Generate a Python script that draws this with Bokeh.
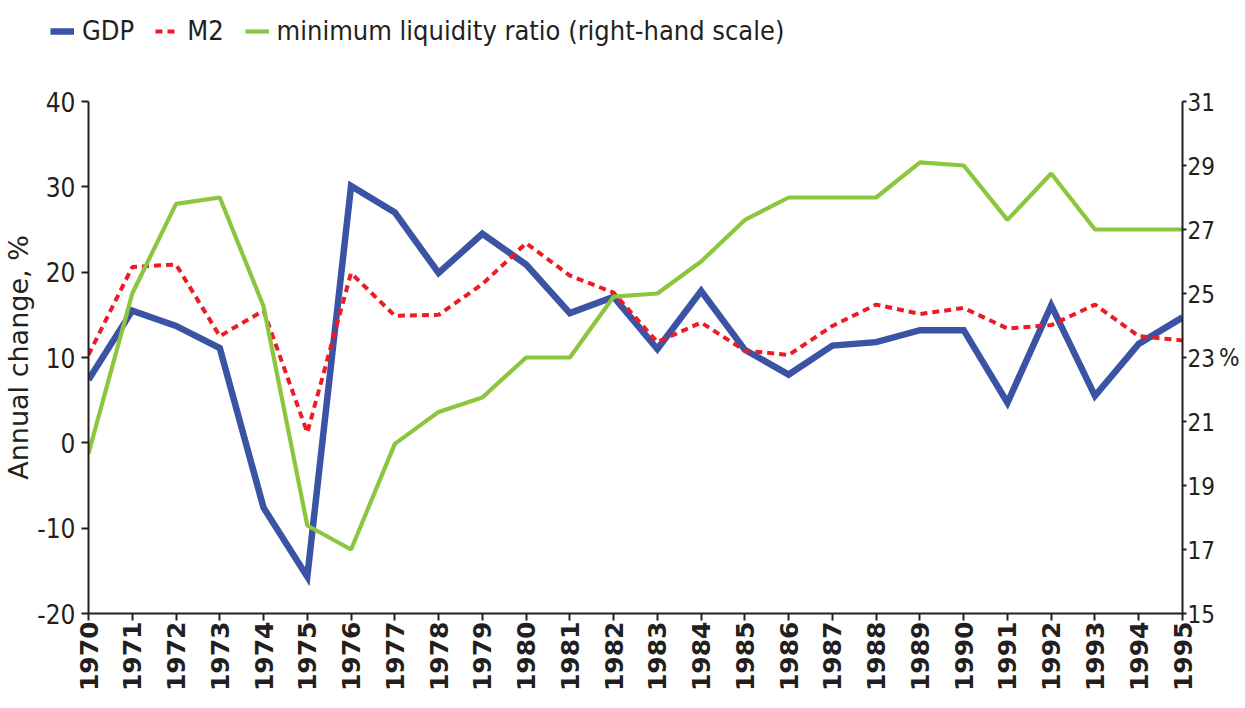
import math
from bokeh.plotting import figure
from bokeh.layouts import column, row
from bokeh.models import Range1d, LinearAxis, FixedTicker, Legend, LegendItem
from bokeh.embed import file_html
from bokeh.resources import INLINE

years = list(range(1970, 1996))
gdp = [7.4, 15.5, 13.7, 11.1, -7.6, -15.7, 30.1, 27.0, 19.9, 24.5, 20.9, 15.2, 17.1,
       11.0, 17.8, 10.9, 8.0, 11.4, 11.8, 13.2, 13.2, 4.7, 16.1, 5.5, 11.6, 14.7]
m2 = [10.3, 20.6, 20.9, 12.5, 15.5, 1.2, 19.9, 14.9, 15.0, 18.6, 23.4, 19.6, 17.6,
      11.8, 14.1, 10.8, 10.3, 13.7, 16.2, 15.1, 15.8, 13.4, 13.8, 16.2, 12.5, 12.0]
liq = [20.0, 25.0, 27.8, 28.0, 24.6, 17.75, 17.0, 20.3, 21.3, 21.75, 23.0, 23.0, 24.9,
       25.0, 26.0, 27.3, 28.0, 28.0, 28.0, 29.1, 29.0, 27.3, 28.75, 27.0, 27.0, 27.0]
left_ticks = [-20, -10, 0, 10, 20, 30, 40]
right_ticks = [15, 17, 19, 21, 23, 25, 27, 29, 31]
series_names = ["GDP", "M2", "minimum liquidity ratio (right-hand scale)"]

NARROW = "DejaVu Sans Condensed, Roboto, sans-serif"
AX = "#231f20"
BLUE, RED, GREEN = "#3a53a4", "#ed1c24", "#8cc63e"
LW = {"GDP": 6.5, "M2": 4, "liq": 4.2}

# ---- legend strip on top (swatch lines sit outside its visible range) ----
lg = figure(width=1245, height=60, output_backend="svg", toolbar_location=None,
            x_range=Range1d(0, 1), y_range=Range1d(0, 1), min_border=0,
            x_axis_location=None, y_axis_location=None)
lg.outline_line_color = None
lg.xgrid.visible = False
lg.ygrid.visible = False
off = [5, 6]
lb = lg.line(off, off, line_color=BLUE, line_width=LW["GDP"])
lr = lg.line(off, off, line_color=RED, line_width=LW["M2"], line_dash="7 5")
lgr = lg.line(off, off, line_color=GREEN, line_width=LW["liq"])
legend = Legend(items=[LegendItem(label=series_names[0], renderers=[lb]),
                       LegendItem(label=series_names[1], renderers=[lr]),
                       LegendItem(label=series_names[2], renderers=[lgr])],
                orientation="horizontal", location=(50, 14), border_line_color=None,
                background_fill_alpha=0, label_text_font=NARROW, label_text_font_size="27px",
                label_text_color=AX, glyph_width=24, spacing=21, padding=0, margin=0,
                label_standoff=8)
lg.add_layout(legend, "center")

# ---- main chart ----
p = figure(width=1245, height=648, output_backend="svg", toolbar_location=None,
           x_range=Range1d(1970, 1995), y_range=Range1d(-20, 40),
           min_border_left=88, min_border_top=41, min_border_bottom=95, min_border_right=63)
p.outline_line_color = None
p.xgrid.visible = False
p.ygrid.visible = False
p.extra_y_ranges = {"right": Range1d(15, 31)}

p.line(years, gdp, line_color=BLUE, line_width=LW["GDP"], line_join="miter")
p.line(years, m2, line_color=RED, line_width=LW["M2"], line_dash="7 5")
p.line(years, liq, line_color=GREEN, line_width=LW["liq"], y_range_name="right")

def style(ax):
    ax.axis_line_color = AX
    ax.axis_line_width = 2
    ax.major_tick_line_color = AX
    ax.major_tick_line_width = 2
    ax.major_tick_in = 0
    ax.major_tick_out = 7
    ax.minor_tick_line_color = None
    ax.major_label_text_color = AX

xa = p.xaxis[0]
style(xa)
xa.ticker = FixedTicker(ticks=years)
xa.major_label_orientation = math.pi / 2
xa.major_label_text_font = "DejaVu Sans"
xa.major_label_text_font_style = "bold"
xa.major_label_text_font_size = "25px"
xa.major_label_standoff = 1

ya = p.yaxis[0]
style(ya)
ya.ticker = FixedTicker(ticks=left_ticks)
ya.major_label_overrides = {t: str(t) for t in left_ticks}
ya.major_label_text_font = NARROW
ya.major_label_text_font_size = "26px"
ya.major_label_standoff = 6
ya.axis_label = "Annual change, %"
ya.axis_label_text_font = "DejaVu Sans"
ya.axis_label_text_font_style = "normal"
ya.axis_label_text_font_size = "27px"
ya.axis_label_text_color = AX
ya.axis_label_standoff = 0

ra = LinearAxis(y_range_name="right")
style(ra)
ra.major_tick_out = 4
ra.ticker = FixedTicker(ticks=right_ticks)
ra.major_label_text_font = NARROW
ra.major_label_text_font_size = "24px"
ra.major_label_standoff = 1
ra.axis_label = "%"
ra.axis_label_orientation = "horizontal"
ra.axis_label_text_font = NARROW
ra.axis_label_text_font_style = "normal"
ra.axis_label_text_font_size = "24px"
ra.axis_label_text_color = AX
ra.axis_label_standoff = 1
p.add_layout(ra, "right")

layout = column(row(lg), p, spacing=0)
open("out.html", "w").write(file_html(layout, INLINE))
